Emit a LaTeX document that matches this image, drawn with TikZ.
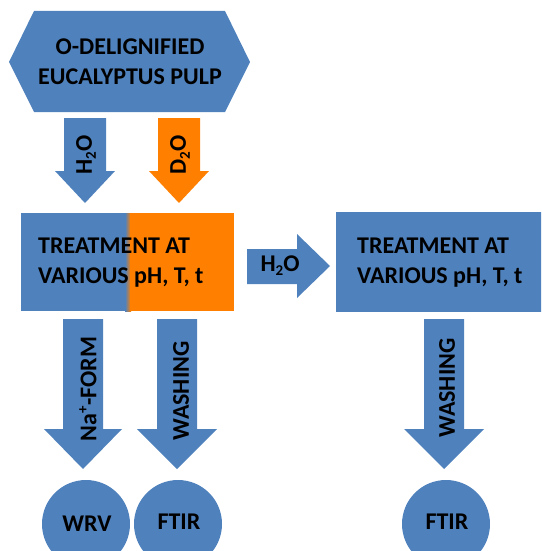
\documentclass[tikz,border=0pt]{standalone}
\usepackage{fontspec}
\setmainfont{Carlito}
\definecolor{pblue}{HTML}{4F81BD}
\definecolor{porange}{HTML}{FF7F00}
% small lowered/raised figures in the bold labels
\newcommand\lowfig[1]{\raisebox{-0.35ex}{\fontsize{15}{15}\selectfont #1}}
\newcommand\highfig[1]{\raisebox{0.75ex}{\fontsize{15}{15}\selectfont #1}}
% downward block arrow: colour, centre x, top y, head y, tip y, half shaft, half head
\newcommand\blockdown[7]{%
  \fill[#1] ({#2-#6},#3) -- ({#2+#6},#3) -- ({#2+#6},#4) -- ({#2+#7},#4)
    -- (#2,#5) -- ({#2-#7},#4) -- ({#2-#6},#4) -- cycle;}
\begin{document}
\begin{tikzpicture}[x=1pt,y=-1pt,
  lbl/.style={font=\fontsize{24}{30}\selectfont\bfseries, text=black, inner sep=0pt}]
\useasboundingbox (0,0) rectangle (541,551);
\clip (0,0) rectangle (541,551);

% starting material
\fill[pblue] (9,62) -- (34,11) -- (225,11) -- (250,62) -- (225,112) -- (34,112) -- cycle;
\node[lbl, align=center] (pulp) at (130,62) {O-DELIGNIFIED\\EUCALYPTUS PULP};

% H2O / D2O feeds
\blockdown{pblue}{85}{118}{171}{203}{21}{30}
\node[lbl, rotate=90] (feedh) at (86,155) {H\lowfig{2}O};
\blockdown{porange}{179}{118}{171}{203}{21}{30}
\node[lbl, rotate=90] (feedd) at (180,155) {D\lowfig{2}O};

% first treatment (half H2O, half D2O)
\fill[pblue] (21,213) rectangle (126,311);
\shade[left color=pblue, right color=porange] (125,213) rectangle (131,311);
\fill[porange] (130,213) rectangle (234,311);
\node[lbl, align=left, anchor=west] (treat1) at (38,263) {TREATMENT AT\\VARIOUS pH, T, t};

% transfer arrow
\fill[pblue] (247,249) -- (297,249) -- (297,234) -- (330,266) -- (297,298)
  -- (297,284) -- (247,284) -- cycle;
\node[lbl] (transfer) at (280,266) {H\lowfig{2}O};

% second treatment
\fill[pblue] (336,212) rectangle (545,312);
\node[lbl, align=left, anchor=west] (treat2) at (357,263) {TREATMENT AT\\VARIOUS pH, T, t};

% work-up arrows
\blockdown{pblue}{83}{319}{429}{469}{20}{39}
\node[lbl, rotate=90] (naform) at (88,389) {Na\highfig{+}-FORM};
\blockdown{pblue}{177}{319}{429}{469}{20}{40}
\node[lbl, rotate=90] (wash1) at (181,391) {WASHING};
\blockdown{pblue}{444}{319}{429}{469}{20}{40}
\node[lbl, rotate=90] (wash2) at (447,388) {WASHING};

% analyses
\fill[pblue] (86,524) circle (44);
\node[lbl] (wrv) at (87,524) {WRV};
\fill[pblue] (178,524) circle (44);
\node[lbl] (ftir1) at (179,522) {FTIR};
\fill[pblue] (446,524) circle (44);
\node[lbl] (ftir2) at (447,522) {FTIR};
\end{tikzpicture}
\end{document}
